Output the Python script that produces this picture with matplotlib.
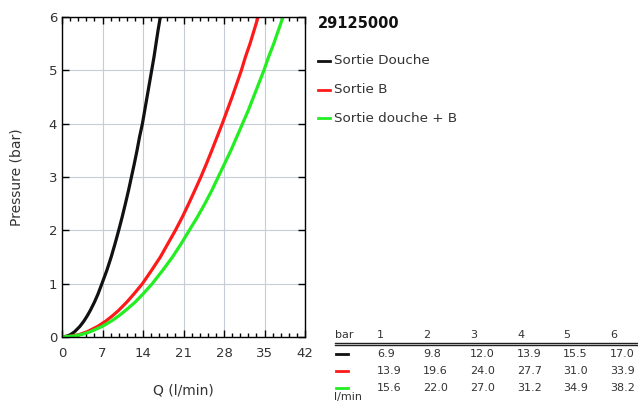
import numpy as np
import matplotlib.pyplot as plt
from matplotlib.ticker import MultipleLocator
from matplotlib.lines import Line2D

# table values (l/min at each pressure)
table_bar = [1, 2, 3, 4, 5, 6]
table_douche = [6.9, 9.8, 12.0, 13.9, 15.5, 17.0]
table_b = [13.9, 19.6, 24.0, 27.7, 31.0, 33.9]
table_both = [15.6, 22.0, 27.0, 31.2, 34.9, 38.2]

# points
curve_bar = [0, 0.02, 0.05, 0.1, 0.2, 0.3, 0.4, 0.5, 0.65, 0.8, 1, 1.25, 1.5, 1.75, 2,
             2.25, 2.5, 2.75, 3, 3.25, 3.5, 3.75, 4, 4.25, 4.5, 4.75, 5, 5.25, 5.5, 5.75, 6]
curve_douche = [0, 0.98, 1.55, 2.19, 3.1, 3.8, 4.38, 4.9, 5.59, 6.2, 6.9, 7.75, 8.5, 9.17, 9.8,
                10.4, 10.96, 11.5, 12.0, 12.5, 12.97, 13.4, 13.9, 14.3, 14.7, 15.1, 15.5, 15.9, 16.25, 16.6, 17.0]
curve_b = [0, 1.95, 3.1, 4.38, 6.19, 7.59, 8.75, 9.8, 11.16, 12.38, 13.9, 15.48, 17.0, 18.3, 19.6,
           20.8, 21.9, 22.96, 24.0, 24.97, 25.9, 26.8, 27.7, 28.55, 29.4, 30.2, 31.0, 31.7, 32.5, 33.2, 33.9]
curve_both = [0, 2.2, 3.49, 4.93, 6.97, 8.55, 9.86, 11.0, 12.6, 13.95, 15.6, 17.4, 19.1, 20.6, 22.0,
              23.4, 24.7, 25.9, 27.0, 28.1, 29.2, 30.2, 31.2, 32.2, 33.1, 34.0, 34.9, 35.7, 36.6, 37.4, 38.2]

labels = ['Sortie Douche', 'Sortie B', 'Sortie douche + B']
colors = ['#111111', '#ff1a1a', '#22ee22']
txt = '#333333'

fig = plt.figure(figsize=(6.38, 4.03), dpi=100)
ax = fig.add_axes([62/638, 66/403, 243/638, 320/403])

for q, c in zip([curve_douche, curve_b, curve_both], colors):
    ax.plot(q, curve_bar, color=c, lw=2.3, solid_joinstyle='round')

ax.set_xlim(0, 42)
ax.set_ylim(0, 6)
ax.xaxis.set_major_locator(MultipleLocator(7))
ax.xaxis.set_minor_locator(MultipleLocator(1.4))
ax.yaxis.set_major_locator(MultipleLocator(1))
ax.grid(True, which='major', color='#c8ccd8', lw=0.8)
ax.tick_params(which='both', direction='in', top=True, right=True, colors='black',
               labelcolor=txt, labelsize=9.5)
ax.tick_params(which='major', length=5, width=1)
ax.tick_params(which='minor', length=3, width=1)
ax.tick_params(axis='x', pad=7)
for s in ax.spines.values():
    s.set_linewidth(1)
ax.set_xlabel('Q (l/min)', color=txt, fontsize=10, labelpad=17)
ax.set_ylabel('Pressure (bar)', color=txt, fontsize=10, labelpad=18)

# title and legend
fig.text(318/638, 1 - 24/403, '29125000', fontsize=10.5, fontweight='bold',
         color='#111111', va='center', ha='left')
for i, (lab, c) in enumerate(zip(labels, colors)):
    y = 1 - (61 + 28.5*i)/403
    fig.add_artist(Line2D([318/638, 330/638], [y, y], color=c, lw=2))
    fig.text(334/638, y, lab, fontsize=9.7, color=txt, va='center', ha='left')

# table
col_x = [377, 423, 470, 517, 563, 610]
fs = 8
fig.text(335/638, 1 - 335/403, 'bar', fontsize=fs, color=txt, va='center')
for x, b in zip(col_x, table_bar):
    fig.text(x/638, 1 - 335/403, str(b), fontsize=fs, color=txt, va='center')
fig.add_artist(Line2D([335/638, 1], [1 - 342.5/403]*2, color='#222222', lw=1))
fig.add_artist(Line2D([335/638, 1], [1 - 345/403]*2, color='#222222', lw=1))
for i, (row, c) in enumerate(zip([table_douche, table_b, table_both], colors)):
    y = 1 - (354 + 17*i)/403
    fig.add_artist(Line2D([336/638, 348/638], [y, y], color=c, lw=2))
    for x, v in zip(col_x, row):
        fig.text(x/638, y, '%.1f' % v, fontsize=fs, color=txt, va='center')
fig.text(334/638, 1 - 397/403, 'l/min', fontsize=fs, color=txt, va='center')

fig.savefig('out.png', dpi=100)
